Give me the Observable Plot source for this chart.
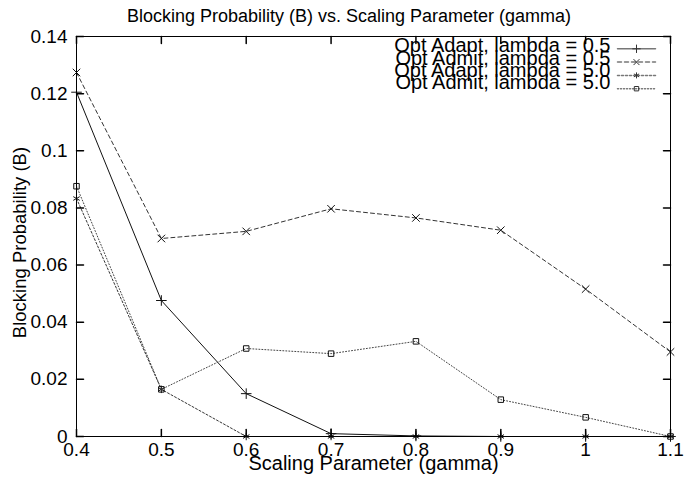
<!DOCTYPE html>
<html><head><meta charset="utf-8">
<script src="https://cdn.jsdelivr.net/npm/d3@7"></script>
<script src="https://cdn.jsdelivr.net/npm/@observablehq/plot@0.6"></script>
<style>
html,body{margin:0;padding:0;background:#fff}
#chart svg{display:block}
</style>
</head><body><div id="chart"></div>
<script>
// ---- data ----
const gamma = [0.4, 0.5, 0.6, 0.7, 0.8, 0.9, 1.0, 1.1];
const adapt05 = [0.1205, 0.0476, 0.0150, 0.0010, 0.0002, 0, 0, 0];
const admit05 = [0.1274, 0.0693, 0.0718, 0.0797, 0.0765, 0.0722, 0.0516, 0.0296];
const adapt50 = [0.0833, 0.0165, 0, 0, 0, 0, 0, 0];
const admit50 = [0.0876, 0.0165, 0.0308, 0.0290, 0.0333, 0.0129, 0.0067, 0];
const seriesNames = ["Opt Adapt, lambda = 0.5", "Opt Admit, lambda = 0.5", "Opt Adapt, lambda = 5.0", "Opt Admit, lambda = 5.0"];
const xTicks = [0.4, 0.5, 0.6, 0.7, 0.8, 0.9, 1.0, 1.1];
const xTickLabels = ["0.4", "0.5", "0.6", "0.7", "0.8", "0.9", "1", "1.1"];
const yTicks = [0, 0.02, 0.04, 0.06, 0.08, 0.10, 0.12, 0.14];
const yTickLabels = ["0", "0.02", "0.04", "0.06", "0.08", "0.1", "0.12", "0.14"];
const titleText = "Blocking Probability (B) vs. Scaling Parameter (gamma)";
const xLabelText = "Scaling Parameter (gamma)";
const yLabelText = "Blocking Probability (B)";

// ---- styles ----
const seriesValues = [adapt05, admit05, adapt50, admit50];
const symbols = ["plus", "times", "asterisk", "square2"];
const dashes = [null, "4,3", "2,2", "1,2"];
const strokes = ["#111", "#333", "#333", "#444"];
const FONT = "'Liberation Sans', Arial, Helvetica, sans-serif";

const xLabelMap = new Map(xTicks.map((t, i) => [t, xTickLabels[i]]));
const yLabelMap = new Map(yTicks.map((t, i) => [t, yTickLabels[i]]));

const lineShape = {draw(ctx, l) { ctx.moveTo(0, 0); ctx.lineTo(0, -l); }};

const marks = [];
seriesValues.forEach((vals, s) => {
  const rows = gamma.map((g, i) => ({g, v: vals[i]}));
  marks.push(Plot.line(rows, {x: "g", y: "v", stroke: strokes[s], strokeWidth: 1, strokeDasharray: dashes[s] ?? undefined}));
  marks.push(Plot.dot(rows, {x: "g", y: "v", symbol: symbols[s], r: 3.5, stroke: "#111", strokeWidth: 1}));
});

// inward ticks on all four sides
const tickLen = 7;
marks.push(Plot.vector(xTicks, {x: d => d, frameAnchor: "bottom", length: tickLen, rotate: 0, anchor: "start", shape: lineShape, stroke: "black"}));
marks.push(Plot.vector(xTicks, {x: d => d, frameAnchor: "top", length: tickLen, rotate: 180, anchor: "start", shape: lineShape, stroke: "black"}));
marks.push(Plot.vector(yTicks, {y: d => d, frameAnchor: "left", length: tickLen, rotate: 90, anchor: "start", shape: lineShape, stroke: "black"}));
marks.push(Plot.vector(yTicks, {y: d => d, frameAnchor: "right", length: tickLen, rotate: -90, anchor: "start", shape: lineShape, stroke: "black"}));

// tick labels
marks.push(Plot.axisX(xTicks, {tickSize: 0, tickPadding: 6, tickFormat: d => xLabelMap.get(d), label: null, fontSize: 19, fill: "black"}));
marks.push(Plot.axisY(yTicks, {tickSize: 0, tickPadding: 9, tickFormat: d => yLabelMap.get(d), label: null, fontSize: 19, fill: "black"}));

// title and axis labels
marks.push(Plot.text([titleText], {text: d => d, frameAnchor: "top", dx: -24.5, dy: -15, lineAnchor: "bottom", fontSize: 18, fill: "black"}));
marks.push(Plot.text([xLabelText], {text: d => d, frameAnchor: "bottom", dx: 0, dy: 27, lineAnchor: "middle", fontSize: 20, fill: "black"}));
marks.push(Plot.text([yLabelText], {text: d => d, frameAnchor: "left", dx: -56, dy: 6, rotate: -90, textAnchor: "middle", lineAnchor: "middle", fontSize: 18.5, fill: "black"}));

// legend
const legendTextDy = [9.5, 21.6, 33.7, 45.8];
const legendLineDy = [12.3, 25.6, 38.9, 52.2];
seriesNames.forEach((name, s) => {
  marks.push(Plot.text([name], {text: d => d, frameAnchor: "top-right", dx: -60, dy: legendTextDy[s], textAnchor: "end", lineAnchor: "middle", fontSize: 20, fill: "black"}));
  marks.push(Plot.vector([0], {frameAnchor: "top-right", dx: -53, dy: legendLineDy[s], length: 38, rotate: 90, anchor: "start", shape: lineShape, stroke: "#777", strokeDasharray: dashes[s] ?? undefined}));
  marks.push(Plot.dot([0], {frameAnchor: "top-right", dx: -34, dy: legendLineDy[s], symbol: symbols[s], r: 2.8, stroke: "#333", strokeWidth: 1}));
});

marks.push(Plot.frame({stroke: "black", strokeWidth: 1}));

const chart = Plot.plot({
  width: 697,
  height: 478,
  marginLeft: 76,
  marginRight: 27,
  marginTop: 36,
  marginBottom: 42,
  x: {domain: [0.4, 1.1], axis: null},
  y: {domain: [0, 0.14], axis: null},
  style: {fontFamily: FONT, background: "white", color: "black", overflow: "visible"},
  marks
});
document.getElementById("chart").appendChild(chart);
</script>
</body></html>
